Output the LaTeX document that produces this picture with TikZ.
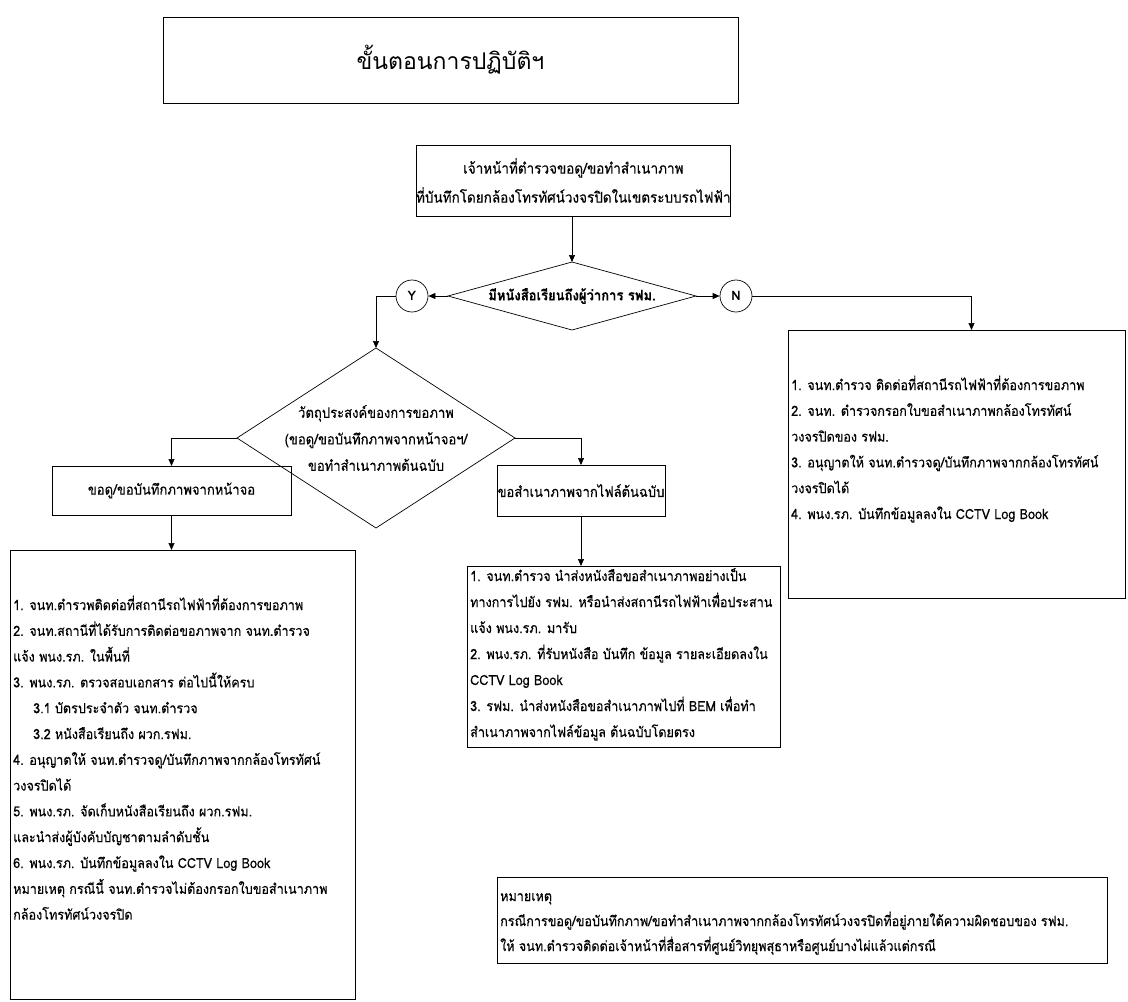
\documentclass[tikz,border=0pt]{standalone}
\usepackage{fontspec}
\newfontfamily\thaifont[Script=Thai, FakeStretch=0.9, FakeBold=0.3]{Loma}
\newfontfamily\thaititle[Script=Thai]{Loma}
\usetikzlibrary{shapes.geometric, arrows.meta}

\tikzset{
    box/.style={draw, line width=0.9pt, rectangle, inner sep=0pt, outer sep=0pt, anchor=north west},
    decision/.style={draw, line width=0.7pt, diamond, inner sep=0pt, outer sep=0pt},
    answer/.style={draw, line width=0.7pt, circle, minimum size=32pt, inner sep=0pt, font=\thaititle\bfseries\fontsize{13}{15}\selectfont},
    stepline/.style={anchor=west, inner sep=0pt, text height=10pt, text depth=4pt, font=\thaifont\fontsize{14}{16}\selectfont},
    arrow/.style={-{Triangle[length=7pt,width=6pt]}, line width=0.7pt}
}

\begin{document}
\begin{tikzpicture}[x=1pt, y=-1pt]

% Define the spacing of the lines
\def\linegap{25.8}

\useasboundingbox (0,0) rectangle (1128,1002);

% Title
\node[box, minimum width=575pt, minimum height=86pt, font=\thaititle\fontsize{23}{26}\selectfont] (title) at (163,17) {ขั้นตอนการปฏิบัติฯ};

% Request box and first question
\node[box, minimum width=299pt, minimum height=71pt, align=center, font=\thaifont\fontsize{15}{29}\selectfont] (request) at (416,145)
    {เจ้าหน้าที่ตำรวจขอดู/ขอทำสำเนาภาพ\\ที่บันทึกโดยกล้องโทรทัศน์วงจรปิดในเขตระบบรถไฟฟ้า};
\node[decision, minimum width=248pt, minimum height=68pt] (letter) at (572,296) {};
\node[font=\thaifont\bfseries\fontsize{14.5}{16}\selectfont] (lettertext) at (letter.center) {มีหนังสือเรียนถึงผู้ว่าการ รฟม.};
\node[answer] (yes) at (412,296) {Y};
\node[answer] (no) at (736,296) {N};

% Second question
\node[decision, minimum width=278pt, minimum height=180pt] (purpose) at (376,438) {};
\node[align=center, font=\thaifont\fontsize{14.5}{26.5}\selectfont] (purposetext) at (purpose.center)
    {วัตถุประสงค์ของการขอภาพ\\(ขอดู/ขอบันทึกภาพจากหน้าจอฯ/\\ขอทำสำเนาภาพต้นฉบับ};

\node[box, minimum width=239pt, minimum height=49pt, font=\thaifont\fontsize{14.5}{16}\selectfont] (view) at (52,466) {ขอดู/ขอบันทึกภาพจากหน้าจอ};
\node[box, minimum width=168pt, minimum height=51pt, font=\thaifont\fontsize{14.5}{16}\selectfont] (copy) at (497,465) {ขอสำเนาภาพจากไฟล์ต้นฉบับ};

% Step boxes
\node[box, minimum width=345pt, minimum height=449pt] (viewsteps) at (10,550) {};
\node[box, minimum width=313pt, minimum height=181pt] (copysteps) at (467,566) {};
\node[box, minimum width=337pt, minimum height=268pt] (nosteps) at (788,330) {};
\node[box, minimum width=610pt, minimum height=86pt] (note) at (497,877) {};

% Draw the lines of text in the step boxes
\foreach \txt [count=\k] in {
    {1. จนท.ตำรวพติดต่อที่สถานีรถไฟฟ้าที่ต้องการขอภาพ},
    {2. จนท.สถานีที่ได้รับการติดต่อขอภาพจาก จนท.ตำรวจ},
    {แจ้ง พนง.รภ. ในพื้นที่},
    {3. พนง.รภ. ตรวจสอบเอกสาร ต่อไปนี้ให้ครบ},
    {\hspace*{20pt}3.1 บัตรประจำตัว จนท.ตำรวจ},
    {\hspace*{20pt}3.2 หนังสือเรียนถึง ผวก.รฟม.},
    {4. อนุญาตให้ จนท.ตำรวจดู/บันทึกภาพจากกล้องโทรทัศน์},
    {วงจรปิดได้},
    {5. พนง.รภ. จัดเก็บหนังสือเรียนถึง ผวก.รฟม.},
    {และนำส่งผู้บังคับบัญชาตามลำดับชั้น},
    {6. พนง.รภ. บันทึกข้อมูลลงใน CCTV Log Book},
    {หมายเหตุ กรณีนี้ จนท.ตำรวจไม่ต้องกรอกใบขอสำเนาภาพ},
    {กล้องโทรทัศน์วงจรปิด}} {
    \node[stepline] (view-\k) at (13, 607+\k*\linegap-\linegap) {\txt};
}

\foreach \txt [count=\k] in {
    {1. จนท.ตำรวจ นำส่งหนังสือขอสำเนาภาพอย่างเป็น},
    {ทางการไปยัง รฟม. หรือนำส่งสถานีรถไฟฟ้าเพื่อประสาน},
    {แจ้ง พนง.รภ. มารับ},
    {2. พนง.รภ. ที่รับหนังสือ บันทึก ข้อมูล รายละเอียดลงใน},
    {CCTV Log Book},
    {3. รฟม. นำส่งหนังสือขอสำเนาภาพไปที่ BEM เพื่อทำ},
    {สำเนาภาพจากไฟล์ข้อมูล ต้นฉบับโดยตรง}} {
    \node[stepline] (copy-\k) at (470, 578+\k*26-26) {\txt};
}

\foreach \txt [count=\k] in {
    {1. จนท.ตำรวจ ติดต่อที่สถานีรถไฟฟ้าที่ต้องการขอภาพ},
    {2. จนท. ตำรวจกรอกใบขอสำเนาภาพกล้องโทรทัศน์},
    {วงจรปิดของ รฟม.},
    {3. อนุญาตให้ จนท.ตำรวจดู/บันทึกภาพจากกล้องโทรทัศน์},
    {วงจรปิดได้},
    {4. พนง.รภ. บันทึกข้อมูลลงใน CCTV Log Book}} {
    \node[stepline] (no-\k) at (791, 387+\k*\linegap-\linegap) {\txt};
}

\foreach \txt [count=\k] in {
    {หมายเหตุ},
    {กรณีการขอดู/ขอบันทึกภาพ/ขอทำสำเนาภาพจากกล้องโทรทัศน์วงจรปิดที่อยู่ภายใต้ความผิดชอบของ รฟม.},
    {ให้ จนท.ตำรวจติดต่อเจ้าหน้าที่สื่อสารที่ศูนย์วิทยุพสุธาหรือศูนย์บางไผ่แล้วแต่กรณี}} {
    \node[stepline] (note-\k) at (500, 898+\k*25-25) {\txt};
}

% Draw the connectors
\draw[arrow] (letter.north |- request.south) -- (letter.north);
\draw[arrow] (letter.west) -- (yes.east);
\draw[arrow] (letter.east) -- (no.west);
\draw[arrow] (yes.west) -| (purpose.north);
\draw[arrow] (no.east) -| ([xshift=15pt]nosteps.north);
\draw[arrow] (purpose.west) -| (view.north);
\draw[arrow] (purpose.east) -| (copy.north);
\draw[arrow] (view.south) -- (view.south |- viewsteps.north);
\draw[arrow] (copy.south) -- (copy.south |- copysteps.north);

\end{tikzpicture}
\end{document}
